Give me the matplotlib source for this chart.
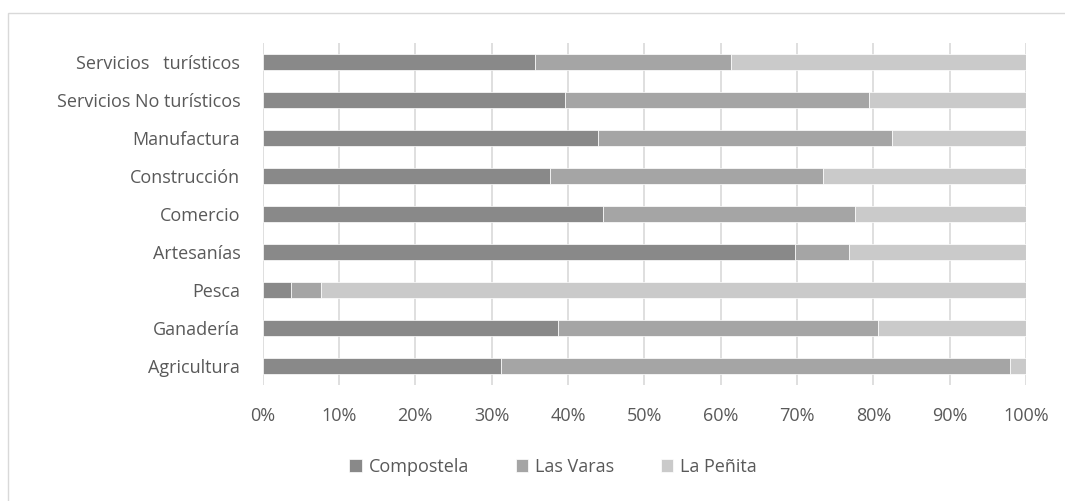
import numpy as np
import matplotlib.pyplot as plt
from matplotlib.patches import Rectangle

# Datos (proporciones por sector)
categorias = ["Agricultura", "Ganadería", "Pesca", "Artesanías", "Comercio",
              "Construcción", "Manufactura", "Servicios No turísticos",
              "Servicios   turísticos"]
compostela = [31.2, 38.7, 3.7, 69.7, 44.6, 37.6, 43.9, 39.6, 35.7]
las_varas = [66.7, 41.9, 4.0, 7.1, 33.0, 35.8, 38.5, 39.8, 25.6]
la_penita = [2.1, 19.4, 92.3, 23.2, 22.4, 26.6, 17.6, 20.6, 38.7]
ticks = [0, 10, 20, 30, 40, 50, 60, 70, 80, 90, 100]

plt.rcParams['font.family'] = ['Open Sans', 'DejaVu Sans']
texto = '#595959'

fig = plt.figure(figsize=(10.65, 5.01), dpi=100)
ax = fig.add_axes([262.5 / 1065, 1 - 385 / 501, 763.5 / 1065, 342 / 501])

y = np.arange(len(categorias))
comp = np.array(compostela)
lv = np.array(las_varas)
lp = np.array(la_penita)
h = 0.4
ax.barh(y, comp, height=h, color='#898989', label='Compostela', zorder=3,
        edgecolor='white', linewidth=0.5)
ax.barh(y, lv, left=comp, height=h, color='#a5a5a5', label='Las Varas', zorder=3,
        edgecolor='white', linewidth=0.5)
ax.barh(y, lp, left=comp + lv, height=h, color='#cacaca', label='La Peñita', zorder=3,
        edgecolor='white', linewidth=0.5)

ax.set_xlim(0, 100)
ax.set_ylim(-0.5, len(categorias) - 0.5)
ax.set_xticks(ticks)
ax.set_xticklabels([f"{t}%" for t in ticks], fontsize=13, color=texto)
ax.set_yticks(y)
ax.set_yticklabels(categorias, fontsize=13, color=texto)
ax.tick_params(axis='both', length=0)
ax.tick_params(axis='x', pad=16)
ax.tick_params(axis='y', pad=16)
ax.grid(axis='x', color='#d9d9d9', linewidth=1.2, zorder=0)
for s in ax.spines.values():
    s.set_visible(False)

leg = fig.legend(loc='center', bbox_to_anchor=(553 / 1065, 1 - 467 / 501), ncol=3,
                 frameon=False, fontsize=13, handlelength=0.7, handleheight=0.7,
                 columnspacing=2.6, handletextpad=0.35)
for t in leg.get_texts():
    t.set_color(texto)

fig.patches.append(Rectangle((8 / 1065, -0.1), 1.2, 1 - 13 / 501 + 0.1,
                             transform=fig.transFigure, fill=False,
                             edgecolor='#d9d9d9', linewidth=1))

fig.savefig('out.png', dpi=100)
